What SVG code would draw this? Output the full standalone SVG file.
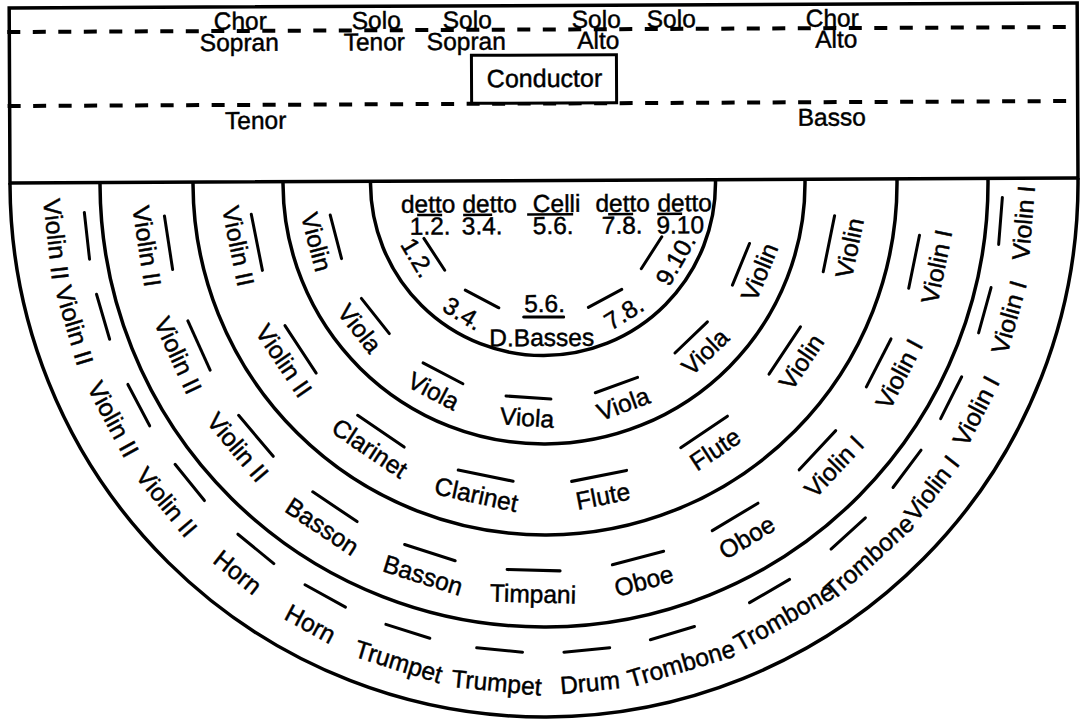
<svg xmlns="http://www.w3.org/2000/svg" width="1081" height="720" viewBox="0 0 1081 720">
<style>
.t{font-family:"Liberation Sans",Arial,Helvetica,sans-serif;font-size:24.5px;fill:#000;stroke:#000;stroke-width:0.45;text-anchor:middle}
.ln{fill:none;stroke:#000;stroke-width:3.5}
.dl{fill:none;stroke:#000;stroke-width:4;stroke-dasharray:13 12.5}
.d{stroke:#000;stroke-width:3;stroke-linecap:round}
.u{stroke:#000;stroke-width:2.5}
</style>
<defs>
<line id="d45" class="d" x1="-22.5" y1="0" x2="22.5" y2="0"/>
<line id="d56" class="d" x1="-28" y1="0" x2="28" y2="0"/>
<line id="d53" class="d" x1="-26.5" y1="0" x2="26.5" y2="0"/>
<line id="d46" class="d" x1="-23" y1="0" x2="23" y2="0"/>
<line id="d38" class="d" x1="-19" y1="0" x2="19" y2="0"/>
</defs>
<rect width="1081" height="720" fill="#fff"/>
<g transform="rotate(-0.27 544 180.5)">
<g id="stage">
<rect class="ln" x="10" y="5.5" width="1068" height="175"/>
<line class="dl" x1="8" y1="29.5" x2="1078" y2="29.5"/>
<line class="dl" x1="8" y1="103.5" x2="1078" y2="103.5"/>
<g class="t">
<text x="241" y="28">Chor</text><text x="240" y="49.5">Sopran</text>
<text x="377" y="28">Solo</text><text x="375" y="49.5">Tenor</text>
<text x="468" y="28">Solo</text><text x="467" y="49.5">Sopran</text>
<text x="597" y="28">Solo</text><text x="599" y="49">Alto</text>
<text x="672" y="28">Solo</text>
<text x="833" y="28">Chor</text><text x="837" y="49">Alto</text>
<text x="256" y="127.5">Tenor</text>
<text x="832" y="127">Basso</text>
</g>
</g>
<g id="conductor">
<rect x="472" y="55" width="145" height="48" fill="#fff" stroke="#000" stroke-width="3"/>
<text class="t" x="545" y="87" style="font-size:25px">Conductor</text>
</g>
<g id="arcs">
<path class="ln" d="M370.5,180.5 L370.5,183 A172.5,172.5 0 0 0 715.5,183 L715.5,180.5"/>
<path class="ln" d="M283,180.5 L283,183 A261,261 0 0 0 805,183 L805,180.5"/>
<path class="ln" d="M193,180.5 L193,183 A352,352 0 0 0 897,183 L897,180.5"/>
<path class="ln" d="M100,180.5 L100,183 A444,444 0 0 0 988,183 L988,180.5"/>
<path class="ln" d="M10,180.5 L10,183 A534,534 0 0 0 1078,183 L1078,180.5"/>
</g>
<g id="basses">
<g class="t">
<text x="428" y="212">detto</text>
<text x="489.5" y="212">detto</text>
<text x="556.5" y="212">Celli</text>
<text x="622.5" y="212">detto</text>
<text x="684.5" y="212">detto</text>
<text x="430" y="234">1.2.</text>
<text x="482" y="234">3.4.</text>
<text x="553" y="234">5.6.</text>
<text x="622" y="234">7.8.</text>
<text x="680" y="234">9.10</text>
<text x="544" y="312">5.6.</text>
<text x="541" y="346">D.Basses</text>
</g>
<line class="u" x1="417" y1="214.5" x2="442" y2="214.5"/>
<line class="u" x1="463" y1="214.5" x2="492" y2="214.5"/>
<line class="u" x1="527" y1="214.5" x2="573" y2="214.5"/>
<line class="u" x1="608" y1="214.5" x2="633" y2="214.5"/>
<line class="u" x1="657" y1="214.5" x2="682" y2="214.5"/>
<line class="d" x1="523" y1="317" x2="563" y2="317"/>
<g transform="translate(543,183)">
<text class="t" transform="rotate(59.5) translate(0,146)" dy="0.35em">1.2.</text>
<text class="t" transform="rotate(31.8) translate(0,153)" dy="0.35em">3.4.</text>
<text class="t" transform="rotate(-31.6) translate(0,153)" dy="0.35em">7.8.</text>
<text class="t" transform="rotate(-59.7) translate(0,153)" dy="0.35em">9.10.</text>
<use href="#d38" transform="rotate(57) translate(0,130)"/>
<use href="#d38" transform="rotate(28) translate(0,131)"/>
<use href="#d38" transform="rotate(-28) translate(0,131)"/>
<use href="#d38" transform="rotate(-57) translate(0,129)"/>
</g>
</g>
<g id="ring2" transform="translate(543,183)">
<g class="t">
<text transform="rotate(-67.4) translate(0,234)" dy="0.35em">Violin</text>
<text transform="rotate(-43.55) translate(0,234)" dy="0.35em">Viola</text>
<text transform="rotate(-19.7) translate(0,235)" dy="0.35em">Viola</text>
<text transform="rotate(4.15) translate(0,235)" dy="0.35em">Viola</text>
<text transform="rotate(28) translate(0,235)" dy="0.35em">Viola</text>
<text transform="rotate(51.85) translate(0,234)" dy="0.35em">Viola</text>
<text transform="rotate(75.7) translate(0,234)" dy="0.35em">Violin</text>
</g>
<use href="#d45" transform="rotate(-67.4) translate(0,214)"/>
<use href="#d45" transform="rotate(-43.55) translate(0,214)"/>
<use href="#d45" transform="rotate(-19.7) translate(0,215)"/>
<use href="#d45" transform="rotate(4.15) translate(0,215)"/>
<use href="#d45" transform="rotate(28) translate(0,215)"/>
<use href="#d45" transform="rotate(51.85) translate(0,214)"/>
<use href="#d45" transform="rotate(75.7) translate(0,214)"/>
</g>
<g id="ring3" transform="translate(543,183) scale(1,1.022)">
<g class="t">
<text transform="rotate(-78) translate(0,313)" dy="0.35em">Violin</text>
<text transform="rotate(-55.6) translate(0,312)" dy="0.35em">Violin</text>
<text transform="rotate(-33.2) translate(0,312)" dy="0.35em">Flute</text>
<text transform="rotate(-10.8) translate(0,312)" dy="0.35em">Flute</text>
<text transform="rotate(12.6) translate(0,312)" dy="0.35em">Clarinet</text>
<text transform="rotate(34) translate(0,312)" dy="0.35em">Clarinet</text>
<text transform="rotate(56.4) translate(0,312)" dy="0.35em">Violin II</text>
<text transform="rotate(78.8) translate(0,311)" dy="0.35em">Violin II</text>
</g>
<use href="#d56" transform="rotate(-78) translate(0,292)"/>
<use href="#d56" transform="rotate(-55.6) translate(0,292)"/>
<use href="#d56" transform="rotate(-33.2) translate(0,292)"/>
<use href="#d56" transform="rotate(-10.8) translate(0,292)"/>
<use href="#d56" transform="rotate(11.6) translate(0,292)"/>
<use href="#d56" transform="rotate(34) translate(0,292)"/>
<use href="#d56" transform="rotate(56.4) translate(0,292)"/>
<use href="#d56" transform="rotate(78.8) translate(0,292)"/>
</g>
<g id="ring4" transform="translate(543,183) scale(1,1.022)">
<g class="t">
<text transform="rotate(-78) translate(0,402)" dy="0.35em">Violin I</text>
<text transform="rotate(-62.06) translate(0,402)" dy="0.35em">Violin I</text>
<text transform="rotate(-46.12) translate(0,402)" dy="0.35em">Violin I</text>
<text transform="rotate(-30.18) translate(0,402)" dy="0.35em">Oboe</text>
<text transform="rotate(-14.24) translate(0,402)" dy="0.35em">Oboe</text>
<text transform="rotate(1.7) translate(0,402)" dy="0.35em">Timpani</text>
<text transform="rotate(17.64) translate(0,402)" dy="0.35em">Basson</text>
<text transform="rotate(33.58) translate(0,402)" dy="0.35em">Basson</text>
<text transform="rotate(50) translate(0,400)" dy="0.35em">Violin II</text>
<text transform="rotate(65.46) translate(0,402)" dy="0.35em">Violin II</text>
<text transform="rotate(81.4) translate(0,401)" dy="0.35em">Violin II</text>
</g>
<use href="#d53" transform="rotate(-78) translate(0,379)"/>
<use href="#d53" transform="rotate(-62.06) translate(0,379)"/>
<use href="#d53" transform="rotate(-46.12) translate(0,379)"/>
<use href="#d53" transform="rotate(-30.18) translate(0,379)"/>
<use href="#d53" transform="rotate(-14.24) translate(0,379)"/>
<use href="#d53" transform="rotate(1.7) translate(0,379)"/>
<use href="#d53" transform="rotate(17.64) translate(0,379)"/>
<use href="#d53" transform="rotate(33.58) translate(0,379)"/>
<use href="#d53" transform="rotate(49.52) translate(0,379)"/>
<use href="#d53" transform="rotate(65.46) translate(0,379)"/>
<use href="#d53" transform="rotate(81.4) translate(0,379)"/>
</g>
<g id="ring5" transform="translate(543,183) scale(1,1.022)">
<g class="t">
<text transform="rotate(-85.1) translate(0,482)" dy="0.35em">Violin I</text>
<text transform="rotate(-74) translate(0,484)" dy="0.35em">Violin I</text>
<text transform="rotate(-62.5) translate(0,487)" dy="0.35em">Violin I</text>
<text transform="rotate(-52.2) translate(0,490)" dy="0.35em">Violin I</text>
<text transform="rotate(-41.4) translate(0,490)" dy="0.35em">Trombone</text>
<text transform="rotate(-29.3) translate(0,488)" dy="0.35em">Trombone</text>
<text transform="rotate(-16.1) translate(0,490)" dy="0.35em">Trombone</text>
<text transform="rotate(-5.2) translate(0,491)" dy="0.35em">Drum</text>
<text transform="rotate(5.7) translate(0,491)" dy="0.35em">Trumpet</text>
<text transform="rotate(17.4) translate(0,490)" dy="0.35em">Trumpet</text>
<text transform="rotate(28.6) translate(0,490)" dy="0.35em">Horn</text>
<text transform="rotate(39) translate(0,488)" dy="0.35em">Horn</text>
<text transform="rotate(50.6) translate(0,489)" dy="0.35em">Violin II</text>
<text transform="rotate(62) translate(0,488)" dy="0.35em">Violin II</text>
<text transform="rotate(73.7) translate(0,489)" dy="0.35em">Violin II</text>
<text transform="rotate(83.8) translate(0,490)" dy="0.35em">Violin II</text>
</g>
<use href="#d46" transform="rotate(-85.1) translate(0,459)"/>
<use href="#d46" transform="rotate(-74) translate(0,459)"/>
<use href="#d46" transform="rotate(-62.5) translate(0,459)"/>
<use href="#d46" transform="rotate(-52.2) translate(0,459)"/>
<use href="#d46" transform="rotate(-41.4) translate(0,459)"/>
<use href="#d46" transform="rotate(-29.3) translate(0,459)"/>
<use href="#d46" transform="rotate(-16.1) translate(0,459)"/>
<use href="#d46" transform="rotate(-5.2) translate(0,459)"/>
<use href="#d46" transform="rotate(5.7) translate(0,459)"/>
<use href="#d46" transform="rotate(17.4) translate(0,459)"/>
<use href="#d46" transform="rotate(28.6) translate(0,459)"/>
<use href="#d46" transform="rotate(39) translate(0,459)"/>
<use href="#d46" transform="rotate(50.6) translate(0,459)"/>
<use href="#d46" transform="rotate(62) translate(0,459)"/>
<use href="#d46" transform="rotate(73.7) translate(0,459)"/>
<use href="#d46" transform="rotate(83.8) translate(0,459)"/>
</g>
</g>
</svg>
